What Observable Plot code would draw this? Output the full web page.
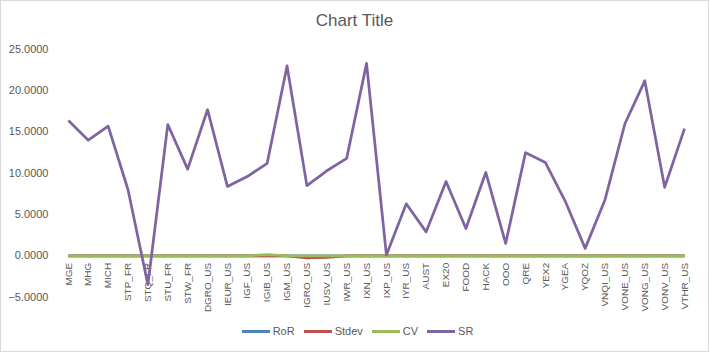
<!DOCTYPE html>
<html>
<head>
<meta charset="utf-8">
<script src="https://cdn.jsdelivr.net/npm/d3@7"></script>
<script src="https://cdn.jsdelivr.net/npm/@observablehq/plot@0.6"></script>
<style>
  html, body { margin: 0; padding: 0; background: #fff; }
  #chart { position: relative; width: 707px; height: 350px; border: 1px solid #d9d9d9; overflow: hidden; font-family: "Liberation Sans", Arial, sans-serif; }
  #title { position: absolute; left: 0; right: 0; top: 10px; text-align: center; font-size: 17px; color: #595959; }
  #plot { position: absolute; left: -1px; top: -1px; }
  #legend { position: absolute; left: 0; right: 0; top: 324px; display: flex; justify-content: center; gap: 9px; font-size: 11px; color: #595959; padding-left: 6px; }
  .item { display: flex; align-items: center; gap: 3px; }
  .sw { width: 28px; height: 3px; display: inline-block; }
</style>
</head>
<body>
<div id="chart">
  <div id="plot"></div>
  <div id="title">Chart Title</div>
  <div id="legend"></div>
</div>
<script>
const categories = ["MGE","MHG","MICH","STP_FR","STQ_FR","STU_FR","STW_FR","DGRO_US","IEUR_US","IGF_US","IGIB_US","IGM_US","IGRO_US","IUSV_US","IWR_US","IXN_US","IXP_US","IYR_US","AUST","EX20","FOOD","HACK","OOO","QRE","YEX2","YGEA","YQOZ","VNQI_US","VONE_US","VONG_US","VONV_US","VTHR_US"];
const ror   = [0,0,0,0,0,0,0,0,0,0,0,0,0,0,0,0,0,0,0,0,0,0,0,0,0,0,0,0,0,0,0,0];
const stdev = [0,0,0,0,0,0,0,0,0,0,0,0,-0.25,-0.2,0,0,0,0,0,0,0,0,0,0,0,0,0,0,0,0,0,0];
const cv    = [0,0,0,0,0,0,0,0,0,0,0.15,0,0,0,0,0,0,0,0,0,0,0,0,0,0,0,0,0,0,0,0,0];
const sr    = [16.4,14.0,15.7,8.0,-3.5,15.9,10.5,17.7,8.4,9.6,11.2,23.0,8.5,10.3,11.8,23.3,0.1,6.3,2.9,9.0,3.3,10.1,1.5,12.5,11.3,6.6,0.9,6.8,16.0,21.2,8.3,15.4];
const seriesNames = ["RoR","Stdev","CV","SR"];
const seriesColors = ["#4F81BD","#C0504D","#9BBB59","#8064A2"];
const yTicks = [-5,0,5,10,15,20,25];

const fmt = d3.format(".4f");
const allSeries = [ror, stdev, cv, sr];

const plot = Plot.plot({
  width: 709,
  height: 320,
  marginLeft: 58,
  marginRight: 14,
  marginTop: 49,
  marginBottom: 23,
  style: { fontFamily: "'Liberation Sans', Arial, sans-serif", fontSize: "11px", color: "#595959", background: "transparent" },
  x: { type: "point", domain: categories, range: [68, 685], padding: 0, round: false, axis: null },
  y: { domain: [-5, 25], axis: null },
  marks: [
    Plot.gridY(yTicks, { x1: 58, x2: 695, stroke: "#d9d9d9", strokeOpacity: 1, strokeWidth: 1 }),
    Plot.axisY(yTicks, { tickSize: 0, tickPadding: 10, tickFormat: fmt, fill: "#595959", fontSize: 11 }),
    Plot.text(categories, { x: d => d, y: () => 0, rotate: -90, textAnchor: "end", dy: 7, fill: "#595959", fontSize: 10 }),
    ...allSeries.map((vals, i) => Plot.line(vals, { x: categories, y: vals, stroke: seriesColors[i], strokeWidth: 2.75, strokeLinejoin: "round", strokeLinecap: "butt" }))
  ]
});
document.getElementById("plot").appendChild(plot);

const legend = document.getElementById("legend");
seriesNames.forEach((n, i) => {
  const it = document.createElement("div");
  it.className = "item";
  const sw = document.createElement("span");
  sw.className = "sw";
  sw.style.background = seriesColors[i];
  const t = document.createElement("span");
  t.textContent = n;
  it.appendChild(sw); it.appendChild(t);
  legend.appendChild(it);
});
</script>
</body>
</html>
